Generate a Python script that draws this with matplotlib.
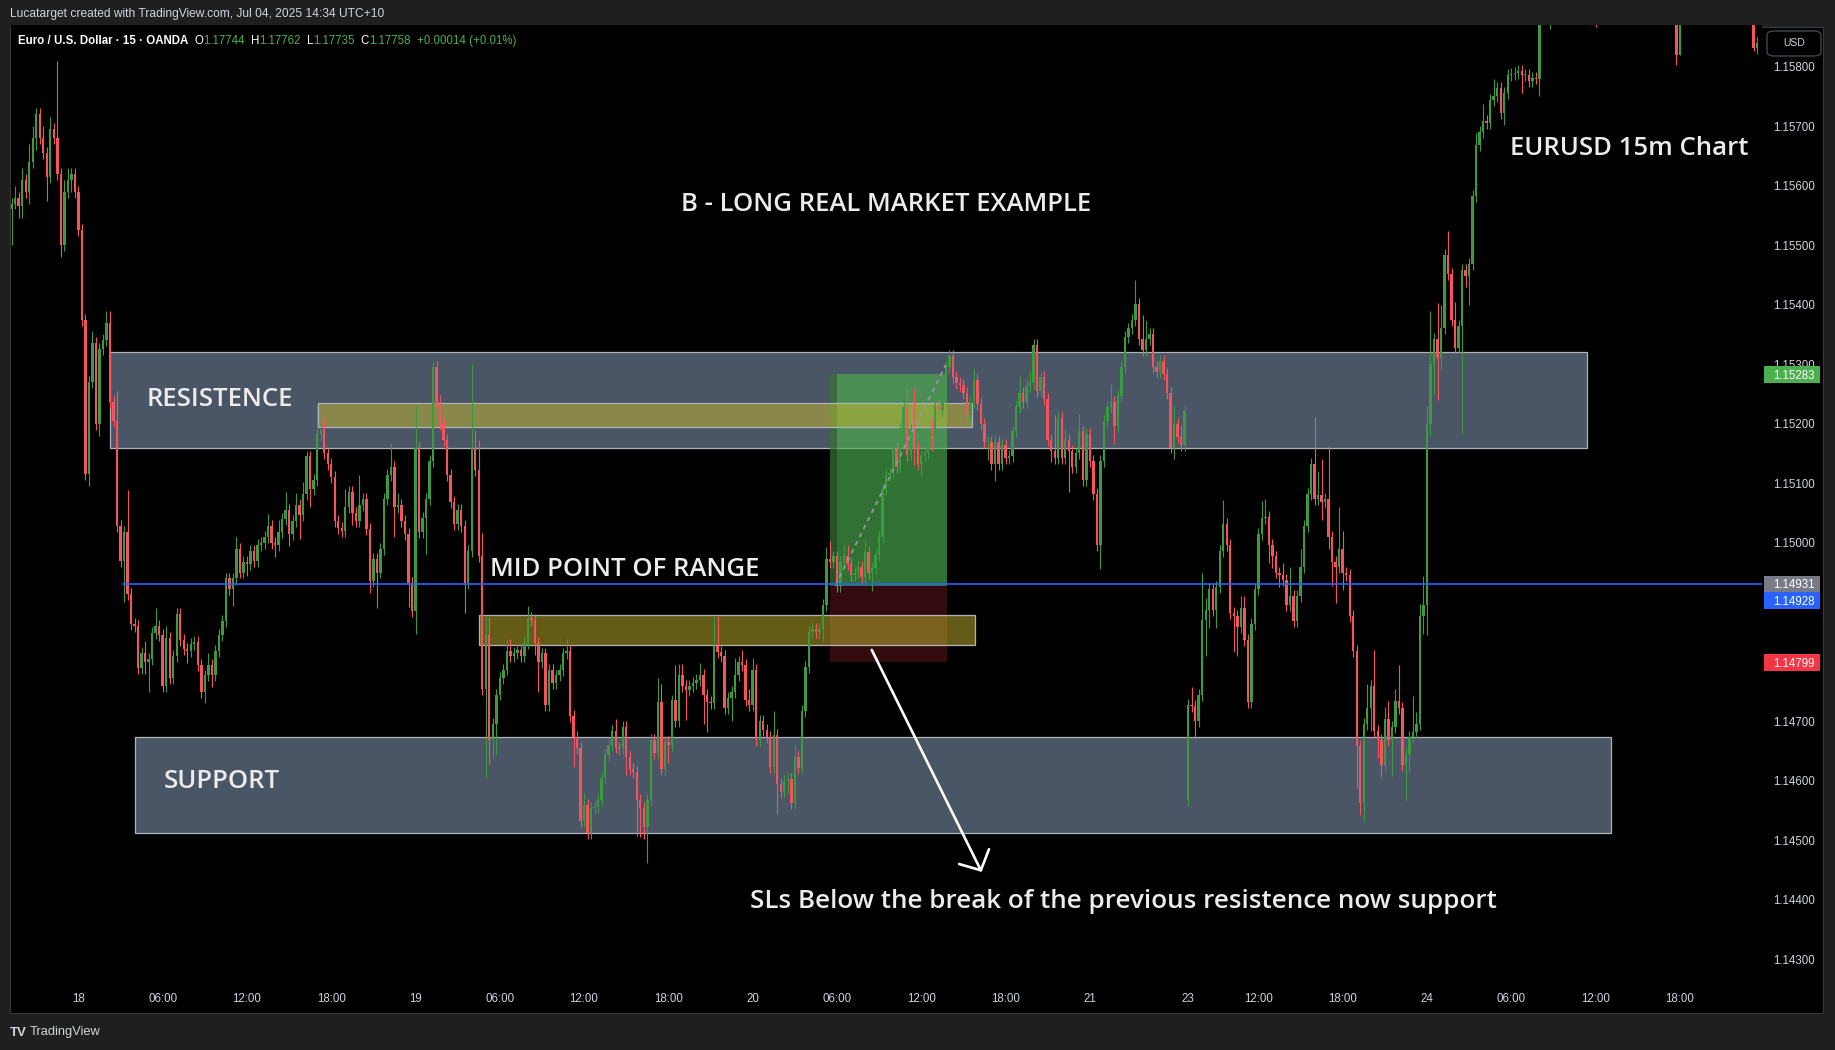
import numpy as np
import matplotlib
matplotlib.use("Agg")
import matplotlib.pyplot as plt
from matplotlib.patches import Rectangle, FancyBboxPatch
import matplotlib.transforms as mtransforms

# ---------------- data (prices in pips above BASE) ----------------
BASE = 1.14
PIP = 0.0001
FIRST_BAR = -19          # bar index of first visible 15m candle (18th 00:00 = bar 0)
FIRST_OPEN = 156.0
MONDAY_BAR = 316         # first bar after the weekend gap
MONDAY_OPEN = 56.8

CLOSE_17 = [157, 158, 156.5, 161, 159, 164, 168, 172, 168, 165.5, 161.5, 169.5, 168, 162, 150, 159, 161, 162, 159]
UW_17 = [1, 2, 1, 2, 1, 3, 2, 1, 1, 2, 1, 2, 1, 13, 1, 2, 2, 1, 1]
LW_17 = [6, 1, 2, 2, 1, 2, 1, 2, 1, 1, 4, 1, 1, 1, 2, 1, 1, 2, 1]

CLOSE_18 = [
    152.5, 137.5, 111.5, 127, 133.5, 120, 132.5, 134, 137, 123.7,
    120.5, 102.8, 97, 101.8, 91.4, 86.4, 86, 79, 81.5, 80,
    80.5, 84.8, 86, 84.5, 76, 84, 77.3, 81, 88, 83.6,
    82.2, 81.8, 83, 83.3, 79.5, 75, 77.7, 79.5, 77.7, 81.8,
    84.5, 86.8, 94, 92.3, 94, 99, 95, 96.8, 96.5, 98.6,
    97, 99.6, 100, 101, 102.8, 100, 99.6, 101.8, 104, 105.5,
    101.4, 103.6, 106.4, 104.6, 108.2, 114.5, 109, 110.5, 118.2, 119,
    115, 113.3, 111, 103.7, 102.5, 102, 106, 108.5, 105, 103.7,
    106.4, 107.4, 102.3, 93.6, 97.3, 95, 99, 107.4, 111.4, 112.8,
    106, 106.3, 103.7, 101.4, 93.2, 88.6]
UW_18 = [
    1, 1, 1, 1, 2, 1, 1, 1, 2, 2,
    1, 5, 1, 1, 7, 1, 1, 1, 1, 2,
    1, 1, 3, 1, 1, 2, 1, 1, 1, 1,
    1, 1, 1, 1, 1, 1, 1, 2, 1, 1,
    1, 1, 1, 1, 1, 2, 1, 1, 1, 1,
    1, 1, 1, 1, 2, 1, 1, 2, 1, 3,
    1, 1, 2, 1, 2, 1, 1, 1, 5, 1,
    2, 1, 1, 1, 1, 1, 3, 1, 1, 1,
    5, 1, 1, 1, 1, 1, 1, 1, 1, 4,
    1, 2, 1, 1, 1, 1]
LW_18 = [
    1, 1, 1, 2, 1, 1, 2, 1, 1, 1,
    1, 1, 1, 7, 1, 1, 1, 1, 1, 2,
    5, 1, 1, 1, 1, 1, 1, 1, 1, 1,
    1, 2, 1, 1, 1, 1, 2, 1, 2, 1,
    1, 1, 1, 1, 3, 1, 1, 1, 2, 1,
    1, 1, 1, 1, 1, 1, 2, 1, 1, 1,
    2, 1, 1, 4, 1, 1, 3, 1, 1, 1,
    1, 1, 1, 1, 1, 1, 1, 1, 2, 1,
    1, 1, 1, 2, 1, 6, 1, 1, 1, 1,
    5, 1, 1, 1, 4, 1]

CLOSE_19 = [
    116, 101.8, 104.1, 107.4,
    113.7, 129.6, 122.8, 120, 117.3, 111.4, 106.9, 103.2, 105.5, 102.8,
    93.2, 98.6, 116, 112.3, 97.7, 75.4, 84.5, 66.8, 69.5, 74.5,
    77.3, 78.7, 81.8, 80.9, 81.5, 82, 81, 83.2, 87.3, 87,
    83.2, 80, 81.4, 72.7, 78.6, 76.4, 77.7, 78.6, 81.4, 81.8,
    70.9, 67.3, 65.5, 53.3, 56, 51.3, 55.4, 55.6, 56.8, 60.5,
    64.4, 66, 68.4, 65.6, 65.5, 69, 64, 62, 61.5, 56.8,
    55.5, 52.2, 56.8, 66.8, 64.6, 73.2, 62, 66.5, 66, 73.5,
    70, 77.7, 76, 75.3, 76, 76.5, 77, 77.8, 74.5, 73.2,
    73, 82.7, 81.7, 80.9, 72.2, 74, 75, 77.7, 80, 79.5,
    73.5, 72.7]
UW_19 = [
    7, 1, 1, 1,
    1, 1, 1, 2, 1, 1, 1, 1, 1, 1,
    1, 1, 14, 3, 5, 4, 3, 3, 1, 1,
    1, 1, 2, 2, 1, 1, 1, 1, 2, 1,
    1, 1, 1, 1, 1, 1, 1, 1, 1, 2,
    1, 1, 1, 1, 2, 1, 1, 1, 1, 1,
    1, 1, 1, 2, 1, 1, 1, 1, 1, 1,
    1, 1, 1, 1, 1, 4, 3, 1, 1, 1,
    6, 2, 2, 1, 1, 1, 1, 2, 1, 1,
    1, 5, 5, 1, 1, 1, 1, 3, 1, 2,
    1, 2]
LW_19 = [
    4, 1, 1, 6,
    1, 1, 1, 1, 1, 1, 1, 1, 1, 1,
    5, 1, 1, 1, 1, 1, 15, 4, 3, 5,
    1, 1, 1, 1, 1, 1, 1, 1, 1, 1,
    2, 5, 1, 1, 1, 1, 1, 1, 1, 1,
    1, 5, 1, 1, 1, 1, 1, 1, 1, 1,
    1, 1, 1, 1, 1, 1, 3, 1, 1, 6,
    5, 2, 6, 1, 1, 1, 1, 1, 3, 1,
    1, 1, 1, 5, 1, 1, 1, 1, 5, 5,
    1, 1, 1, 1, 1, 1, 4, 1, 1, 1,
    1, 1]

CLOSE_20 = [
    78.6, 66.8, 70, 68.6, 67.3, 62.3, 67.7, 59.5,
    58.1, 59.9, 60.3, 56.3, 64, 62.2, 71.8, 79.1, 85, 85.5,
    85, 85.5, 89.5, 97.3, 96.8, 97.7, 92.7, 96.8, 97.7, 96.5,
    94.6, 95, 96, 94.3, 98.5, 94.9, 95.7, 98, 101, 109.1,
    111.4, 111.7, 115.9, 112.8, 119.2, 122.8, 114.7, 119, 116, 113.3,
    114.5, 115, 118, 117.5, 123, 122.3, 124.5, 129.6, 131.4, 127.8,
    126.9, 126.5, 125.1, 121.4, 123.7, 127.3, 123.3, 120, 116.9, 116.9,
    113.3, 116.9, 113.3, 116.4, 114.2, 114.6, 118.7, 122.8, 125.1, 123.7,
    126.4, 126.9, 133.2, 125.5, 127.8, 124.2, 117.3, 115.5, 114.2, 121,
    114.2, 117.3, 115.5, 112.8, 115, 118.7, 110.5, 118.2]
UW_20 = [
    2, 1, 1, 1, 1, 1, 4, 1,
    1, 1, 1, 1, 2, 1, 1, 1, 1, 1,
    1, 1, 1, 2, 3, 1, 1, 1, 2, 2,
    1, 1, 1, 1, 2, 1, 1, 1, 1, 1,
    1, 1, 1, 1, 1, 1, 3, 1, 7, 1,
    1, 1, 1, 3, 1, 1, 1, 1, 1, 1,
    1, 1, 1, 1, 1, 2, 1, 1, 1, 1,
    1, 1, 1, 1, 1, 1, 1, 1, 3, 1,
    1, 2, 1, 1, 1, 1, 1, 1, 6, 1,
    1, 2, 1, 1, 1, 3, 1, 1]
LW_20 = [
    1, 1, 1, 1, 1, 1, 1, 5,
    1, 1, 2, 1, 1, 1, 1, 1, 1, 1,
    1, 1, 2, 1, 1, 1, 1, 1, 1, 1,
    1, 1, 1, 1, 1, 1, 3, 1, 1, 1,
    1, 1, 1, 1, 1, 1, 1, 1, 3, 1,
    2, 1, 1, 2, 1, 1, 1, 1, 1, 1,
    1, 1, 1, 1, 1, 1, 1, 1, 1, 3,
    1, 3, 1, 1, 1, 1, 1, 1, 1, 1,
    1, 1, 1, 1, 1, 1, 1, 2, 1, 1,
    1, 1, 7, 1, 1, 1, 1, 1]

CLOSE_21 = [
    113.7, 108.2,
    99.6, 113.7, 120.4, 122.8, 123.7, 119.6, 124.6, 129.6, 134.6, 136,
    137.4, 140.1, 134.2, 132.4, 134.3, 135, 129.6, 128.7, 130.5, 128.3,
    125.1, 116, 120, 117.8, 116.4, 122.1]
UW_21 = [1, 1, 1, 1, 1, 1, 3, 1, 1, 1, 1, 1, 1, 4, 1, 4, 3, 1, 1, 1, 1, 1, 1, 1, 3, 1, 2, 1]
LW_21 = [1, 1, 1, 4, 1, 1, 1, 3, 1, 1, 1, 1, 1, 1, 1, 1, 1, 1, 1, 1, 1, 1, 1, 1, 2, 1, 1, 1]

CLOSE_23 = [
    72.7, 72.5, 70, 74.4,
    87, 88.7, 92.3, 88.7, 92.5, 98.6, 103.2, 99.6, 88.2, 87.7,
    85.9, 89, 83.6, 73.2, 86.4, 92.3, 101.4, 104.1, 104.3, 99.6,
    97.7, 95, 94.6, 93.7, 89.6, 91, 86.8, 91, 95.9, 102.8,
    108.2, 113.2, 107.3, 108, 106.9, 107.3, 101, 96.8, 95.9, 99,
    95, 94.6, 87.7, 81.8, 65.8, 56.3, 69.6, 72.3, 75.9, 68.3,
    66.8, 62.7, 70.4, 66.8, 69, 73.4, 72.3, 62.7, 64.5, 67.3,
    68.2, 69.6, 87.7, 89.5]
UW_23 = [
    1, 3, 1, 1,
    8, 2, 1, 1, 1, 1, 4, 1, 1, 1,
    1, 2, 2, 1, 1, 1, 1, 3, 3, 1,
    1, 1, 1, 2, 1, 5, 1, 1, 3, 1,
    1, 1, 8, 4, 6, 1, 9, 1, 1, 7,
    3, 1, 1, 1, 1, 1, 1, 4, 1, 6,
    1, 1, 2, 3, 1, 2, 6, 1, 1, 1,
    6, 2, 2, 5]
LW_23 = [
    1, 1, 3, 1,
    1, 6, 3, 1, 3, 1, 1, 1, 1, 6,
    5, 1, 1, 1, 1, 1, 1, 1, 1, 3,
    2, 1, 2, 1, 1, 1, 1, 1, 1, 1,
    1, 1, 1, 1, 3, 1, 2, 4, 6, 1,
    3, 1, 1, 1, 7, 2, 3, 1, 4, 1,
    3, 2, 1, 1, 6, 1, 1, 1, 6, 3,
    1, 1, 1, 3]

CLOSE_24 = [
    120, 130, 134.3, 131, 136, 148.3,
    145.1, 137.4, 132.8, 136.4, 145.8, 144.9, 146.9, 158.3, 166.8, 169,
    170.8, 170.6, 174.4, 175, 176.4, 172.2, 175.6, 178.6, 178.8, 179,
    179.3, 178.6, 178.6, 177.6, 178.1, 178,
    192, 194, 189, 191,
    193, 195, 197, 196, 198, 200, 199, 201, 203, 202,
    200, 198, 192, 195, 198, 201, 204, 206, 205, 208,
    210, 209, 207, 205, 203, 200, 198, 196, 194, 192,
    194, 193, 191, 190, 189, 182, 188, 190, 192, 195,
    197, 199, 201, 200, 202, 204, 203, 201, 199, 197,
    195, 194, 192, 191, 190, 189, 188, 183.2, 184]
UW_24 = [
    3, 9, 1, 6, 4, 1,
    4, 1, 3, 1, 1, 1, 1, 1, 2, 1,
    3, 1, 1, 3, 1, 1, 1, 1, 1, 1,
    1, 1, 1, 1, 1, 1,
    1, 2, 1, 1,
    2, 1, 2, 1, 1, 2, 1, 1, 2, 1,
    1, 2, 1, 1, 2, 1, 1, 2, 1, 1,
    2, 1, 1, 1, 2, 1, 1, 1, 2, 1,
    1, 1, 2, 1, 1, 2, 1, 1, 2, 1,
    1, 2, 1, 1, 1, 2, 1, 1, 1, 2,
    1, 1, 2, 1, 1, 1, 2, 1, 1]
LW_24 = [
    5, 2, 5, 7, 2, 1,
    1, 1, 1, 1, 18, 2, 5, 1, 1, 1,
    1, 1, 1, 1, 1, 1, 2, 1, 1, 1,
    1, 3, 1, 1, 1, 1,
    3, 1, 1, 2.7,
    1, 1, 1, 1, 1, 1, 1, 1, 1, 1,
    1, 1, 5.3, 1, 1, 1, 1, 1, 1, 1,
    1, 1, 1, 1, 1, 1, 1, 1, 1, 1,
    1, 1, 1, 1, 1, 1.8, 0, 0.5, 1, 1,
    1, 1, 1, 1, 1, 1, 1, 1, 1, 1,
    1, 1, 1, 1, 1, 1, 0.5, 0.5, 1]

TIME_TICKS = [0, 24, 48, 72, 96, 120, 144, 168, 192, 216, 240, 264, 288, 316, 336, 360, 384, 408, 432, 456]
TIME_LABELS = ["18", "06:00", "12:00", "18:00", "19", "06:00", "12:00", "18:00", "20", "06:00",
               "12:00", "18:00", "21", "23", "12:00", "18:00", "24", "06:00", "12:00", "18:00"]
PRICE_TICKS = [1.143, 1.144, 1.145, 1.146, 1.147, 1.148, 1.149, 1.150, 1.151, 1.152,
               1.153, 1.154, 1.155, 1.156, 1.157, 1.158]

RESIST = (9.0, 429.5, 1.15159, 1.15320)
SUPPORT = (16.2, 436.3, 1.14512, 1.14674)
UPPER_FILL = (68.2, 254.4, 1.15195, 1.15235)
LOWER_FILL = (114.2, 255.2, 1.14829, 1.14879)
POS_X = (214.0, 247.3)
ENTRY = 1.14928
TAKE_PROFIT = 1.15283
STOP_LOSS = 1.14799
MID_LINE = 1.14931
MID_START = 12.8

# ---------------- build OHLC ----------------
closes = np.array(CLOSE_17 + CLOSE_18 + CLOSE_19 + CLOSE_20 + CLOSE_21 + CLOSE_23 + CLOSE_24, float)
uw = np.array(UW_17 + UW_18 + UW_19 + UW_20 + UW_21 + UW_23 + UW_24, float)
lw = np.array(LW_17 + LW_18 + LW_19 + LW_20 + LW_21 + LW_23 + LW_24, float)
n = len(closes)
bars = np.arange(FIRST_BAR, FIRST_BAR + n)
opens = np.empty(n)
opens[0] = FIRST_OPEN
opens[1:] = closes[:-1]
opens[MONDAY_BAR - FIRST_BAR] = MONDAY_OPEN
highs = np.maximum(opens, closes) + uw
lows = np.minimum(opens, closes) - lw
O = BASE + opens * PIP
C = BASE + closes * PIP
Hh = BASE + highs * PIP
Ll = BASE + lows * PIP

# ---------------- figure ----------------
W, H = 1835, 1050
fig = plt.figure(figsize=(W / 100, H / 100), dpi=100)
fig.patch.set_facecolor("#1f1f1f")

def fx(px):
    return px / W

def fy(py):
    return 1 - py / H

panel = Rectangle((fx(10), fy(1013)), fx(1823) - fx(10), fy(27) - fy(1013),
                  transform=fig.transFigure, facecolor="black", edgecolor="#3a3a3a",
                  linewidth=0.8, zorder=-10)
fig.add_artist(panel)

ax = fig.add_axes([fx(11), 1 - 985 / H, 1751 / W, 960 / H])
ax.set_facecolor("black")
for s in ax.spines.values():
    s.set_visible(False)
ax.set_xlim(-19.19, 479.4)
ax.set_ylim(BASE + 25.70 * PIP, BASE + 186.99 * PIP)

UI_FONT = ["Liberation Sans", "DejaVu Sans"]
DRAW_FONT = ["Open Sans", "DejaVu Sans"]
AXIS_COLOR = "#d1d4dc"

ax.set_xticks(TIME_TICKS)
ax.set_xticklabels(TIME_LABELS)
ax.tick_params(axis="x", length=0, pad=6, labelsize=8.3, labelcolor=AXIS_COLOR)
ax.yaxis.tick_right()
ax.set_yticks(PRICE_TICKS)
ax.set_yticklabels([f"{p:.5f}" for p in PRICE_TICKS])
ax.tick_params(axis="y", length=0, pad=8, labelsize=8.3, labelcolor=AXIS_COLOR)
for lab in ax.get_xticklabels() + ax.get_yticklabels():
    lab.set_family(UI_FONT)

# zones
def zone(spec, face, alpha, z, edge="#b0b4ba"):
    x0, x1, y0, y1 = spec
    ax.add_patch(Rectangle((x0, y0), x1 - x0, y1 - y0, facecolor=face, alpha=alpha,
                           edgecolor="none", zorder=z))
    ax.add_patch(Rectangle((x0, y0), x1 - x0, y1 - y0, facecolor="none",
                           edgecolor=edge, linewidth=0.9, zorder=z + 0.01))

zone(RESIST, "#4a5666", 1.0, 1.0)
zone(SUPPORT, "#4a5666", 1.0, 1.0)

# position tool
ax.add_patch(Rectangle((POS_X[0], ENTRY), POS_X[1] - POS_X[0], TAKE_PROFIT - ENTRY,
                       facecolor="#4caf50", alpha=0.65, edgecolor="none", zorder=1.5))
ax.add_patch(Rectangle((POS_X[0], STOP_LOSS), POS_X[1] - POS_X[0], ENTRY - STOP_LOSS,
                       facecolor="#f23645", alpha=0.21, edgecolor="none", zorder=1.5))
ax.add_patch(Rectangle((POS_X[0], ENTRY), 1.9, TAKE_PROFIT - ENTRY,
                       facecolor="black", alpha=0.25, edgecolor="none", zorder=1.55))

zone(UPPER_FILL, "#c8b92d", 0.5, 2.0)
zone(LOWER_FILL, "#c8b92d", 0.5, 2.0)

# candles
UP, DOWN = "#3d9a41", "#f7525f"
cols = np.where(C >= O, UP, DOWN)
ax.vlines(bars, Ll, Hh, colors=cols, linewidth=0.8, zorder=3)
body_lo = np.minimum(O, C)
body_h = np.maximum(np.abs(C - O), 0.15 * PIP)
ax.bar(bars, body_h, bottom=body_lo, width=0.68, color=cols, linewidth=0, zorder=3.1)

# dashed entry->exit line of the position
ax.plot([215.5, 247.0], [ENTRY, BASE + 129.9 * PIP], color="#9598a1", lw=1.3,
        ls=(0, (2.5, 2.5)), zorder=3.5)

# mid point horizontal line
ax.plot([MID_START, 479.4], [MID_LINE, MID_LINE], color="#2962ff", lw=1.2, zorder=4)

# annotations
TXT = "#ececec"
DY = -0.55
def note(x, ypips, s, ha="left"):
    ax.text(x, BASE + (ypips + DY) * PIP, s, ha=ha, va="center", fontsize=18.5, color=TXT,
            family=DRAW_FONT, fontweight="semibold", zorder=6)

note(230, 157.4, "B - LONG REAL MARKET EXAMPLE", ha="center")
note(407.6, 166.8, "EURUSD 15m Chart")
note(19.3, 124.7, "RESISTENCE")
note(117.2, 96.1, "MID POINT OF RANGE")
note(24.4, 60.5, "SUPPORT")
ax.text(191.2, BASE + (40.2 + DY) * PIP,
        "SLs Below the break of the previous resistence now support",
        ha="left", va="center", fontsize=18.7, color=TXT, family=DRAW_FONT,
        fontweight="semibold", zorder=6)

ax.annotate("", xy=(257.2, BASE + 44.7 * PIP), xytext=(225.9, BASE + 82.0 * PIP),
            arrowprops=dict(arrowstyle="->,head_length=0.55,head_width=0.6", color="white",
                            lw=1.9, shrinkA=0, shrinkB=0, mutation_scale=20), zorder=6)

# price labels on axis
blend = mtransforms.blended_transform_factory(ax.transAxes, ax.transData)
lab_h = 2.8 * PIP
def price_label(val, ypos, face):
    ax.add_patch(Rectangle((1.0011, ypos - lab_h / 2), 0.032, lab_h, transform=blend,
                           facecolor=face, edgecolor="none", clip_on=False, zorder=7))
    ax.text(1.0063, ypos, f"{val:.5f}", transform=blend, ha="left", va="center_baseline",
            fontsize=8.3, color="white", family=UI_FONT, clip_on=False, zorder=8)

price_label(TAKE_PROFIT, TAKE_PROFIT, "#4caf50")
price_label(MID_LINE, MID_LINE, "#787b86")
price_label(ENTRY, MID_LINE - lab_h, "#2962ff")
price_label(STOP_LOSS, STOP_LOSS, "#f23645")

# USD button
btn = FancyBboxPatch((fx(1767), fy(56)), fx(1821) - fx(1767), fy(31) - fy(56),
                     boxstyle="round,pad=0,rounding_size=0.004", transform=fig.transFigure,
                     facecolor="black", edgecolor="#434651", linewidth=1.0, zorder=5)
fig.add_artist(btn)
fig.text(fx(1794), fy(43.5), "USD", ha="center", va="center", fontsize=7.5,
         color=AXIS_COLOR, family=UI_FONT, zorder=6)

# header texts
fig.text(fx(9.6), fy(14.5), "Lucatarget created with TradingView.com, Jul 04, 2025 14:34 UTC+10",
         ha="left", va="center", fontsize=8.65, color="#d1d4dc", family=UI_FONT)

fig.canvas.draw()
rend = fig.canvas.get_renderer()
LEG_GREEN = "#4caf50"
parts = [("Euro / U.S. Dollar · 15 · OANDA", "#ffffff", 6, "bold"),
         ("O", "#ffffff", 0, "normal"), ("1.17744", LEG_GREEN, 6, "normal"),
         ("H", "#ffffff", 0, "normal"), ("1.17762", LEG_GREEN, 6, "normal"),
         ("L", "#ffffff", 0, "normal"), ("1.17735", LEG_GREEN, 6, "normal"),
         ("C", "#ffffff", 0, "normal"), ("1.17758", LEG_GREEN, 6, "normal"),
         ("+0.00014 (+0.01%)", LEG_GREEN, 0, "normal")]
xcur = 18.0
for s, col, gap, wt in parts:
    t = fig.text(fx(xcur), fy(41), s, ha="left", va="center", fontsize=8.3, color=col,
                 family=UI_FONT, fontweight=wt, zorder=6)
    xcur += t.get_window_extent(renderer=rend).width + gap

# bottom logo
t1 = fig.text(fx(9.5), fy(1032.5), "TV", ha="left", va="center", fontsize=9.5,
              color="#d1d4dc", family=UI_FONT, fontweight="heavy")
w1 = t1.get_window_extent(renderer=rend).width
fig.text(fx(9.5 + w1 + 3), fy(1032.5), "TradingView", ha="left", va="center", fontsize=9.3,
         color="#d1d4dc", family=UI_FONT)

fig.savefig("out.png", dpi=100, facecolor=fig.get_facecolor())
